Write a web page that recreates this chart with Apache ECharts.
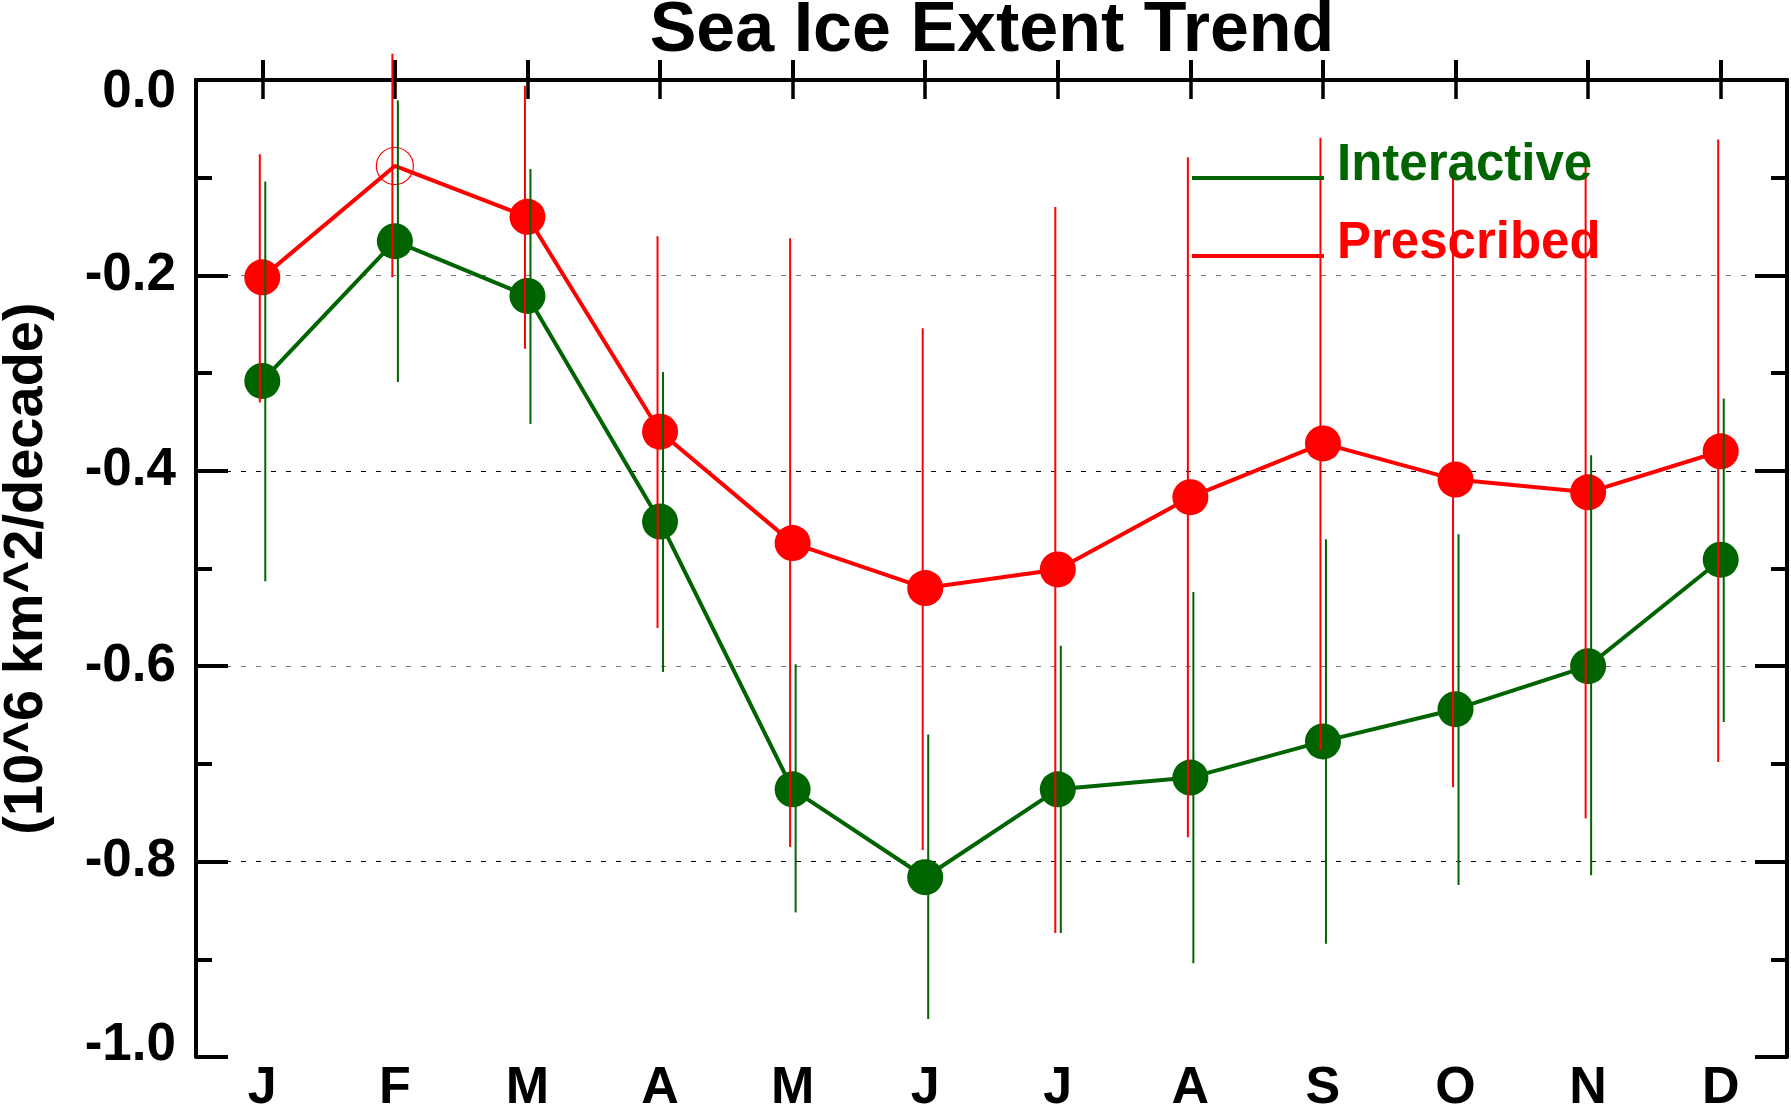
<!DOCTYPE html>
<html>
<head>
<meta charset="utf-8">
<script src="https://cdn.jsdelivr.net/npm/echarts@6/dist/echarts.min.js"></script>
<style>
  html, body { margin: 0; padding: 0; background: #fff; }
  #chart { width: 1791px; height: 1108px; }
</style>
</head>
<body>
<div id="chart"></div>
<script>
// month tick labels
const months = ['J', 'F', 'M', 'A', 'M', 'J', 'J', 'A', 'S', 'O', 'N', 'D']

// Interactive (green)
const interactive = [-0.308, -0.165, -0.221, -0.452, -0.726, -0.816, -0.726, -0.714, -0.677, -0.644, -0.600, -0.491]
const interactiveHi = [-0.104, -0.021, -0.091, -0.299, -0.598, -0.670, -0.579, -0.524, -0.470, -0.465, -0.384, -0.326]
const interactiveLo = [-0.513, -0.309, -0.352, -0.606, -0.852, -0.961, -0.873, -0.904, -0.884, -0.824, -0.814, -0.657]

// Prescribed (red)
const prescribed = [-0.202, -0.088, -0.140, -0.360, -0.474, -0.520, -0.501, -0.427, -0.372, -0.409, -0.422, -0.380]
const prescribedHi = [-0.076, 0.027, -0.006, -0.160, -0.162, -0.254, -0.130, -0.079, -0.059, -0.097, -0.089, -0.061]
const prescribedLo = [-0.330, -0.202, -0.275, -0.561, -0.785, -0.788, -0.873, -0.775, -0.686, -0.724, -0.756, -0.698]

const GREEN = '#006400'
const RED = '#ff0000'
const FONT = 'Liberation Sans, Arial, Helvetica, sans-serif'

const chart = echarts.init(document.getElementById('chart'))

// vertical bar from lo to hi, shifted a few px sideways
const errorBar = (offset, color) => (params, api) => {
  const top = api.coord([api.value(0), api.value(2)])
  const bot = api.coord([api.value(0), api.value(1)])
  return {
    type: 'line',
    shape: { x1: top[0] + offset, y1: top[1], x2: bot[0] + offset, y2: bot[1] },
    style: { stroke: color, lineWidth: 2 }
  }
}

const yCommon = {
  type: 'value',
  min: -1.0,
  max: 0.0,
  interval: 0.2,
  axisLine: { show: true, lineStyle: { color: '#000', width: 4 } },
  axisTick: { show: true, inside: true, length: 32, lineStyle: { color: '#000', width: 4 } },
  minorTick: { show: true, splitNumber: 2, length: 16, lineStyle: { color: '#000', width: 4 } },
  minorSplitLine: { show: false }
}

// legend key: the line sits at the bottom of the icon box so it lines up with the text baseline
const legendIcon = 'path://M0,0 L140,0 L140,0 Z M0,24 L132,24 L132,28 L0,28 Z'
const legendText = { fontFamily: FONT, fontSize: 51, fontWeight: 'bold', lineHeight: 52 }

const option = {
  animation: false,
  backgroundColor: '#fff',
  title: {
    text: 'Sea Ice Extent Trend',
    left: 992,
    top: 4,
    padding: 0,
    textAlign: 'center',
    textStyle: { fontFamily: FONT, fontSize: 70, fontWeight: 'bold', color: '#000', lineHeight: 56 }
  },
  legend: [
    {
      data: [{ name: 'Interactive', textStyle: { color: GREEN } }],
      left: 1192,
      top: 140,
      padding: 0,
      icon: legendIcon,
      itemWidth: 140,
      itemHeight: 28,
      itemGap: 0,
      textStyle: legendText
    },
    {
      data: [{ name: 'Prescribed', textStyle: { color: RED } }],
      left: 1192,
      top: 218,
      padding: 0,
      icon: legendIcon,
      itemWidth: 140,
      itemHeight: 28,
      itemGap: 0,
      textStyle: legendText
    }
  ],
  grid: { left: 196, right: 4, top: 80, bottom: 51, outerBoundsMode: 'none', containLabel: false },
  xAxis: [
    {
      type: 'category',
      data: months,
      boundaryGap: true,
      position: 'bottom',
      axisLine: { show: true, lineStyle: { color: '#000', width: 4 } },
      axisTick: { show: true, inside: true, alignWithLabel: true, length: 20, lineStyle: { color: '#000', width: 4 } },
      axisLabel: { fontFamily: FONT, fontSize: 52, fontWeight: 'bold', color: '#000', margin: 6, lineHeight: 52 },
      splitLine: { show: false }
    },
    {
      type: 'category',
      data: months,
      boundaryGap: true,
      position: 'top',
      axisLine: { show: true, lineStyle: { color: '#000', width: 4 } },
      axisTick: { show: true, inside: true, alignWithLabel: true, length: 19, lineStyle: { color: '#000', width: 3.5 } },
      axisLabel: { show: false },
      splitLine: { show: false }
    }
  ],
  yAxis: [
    {
      ...yCommon,
      position: 'left',
      name: '(10^6 km^2/decade)',
      nameLocation: 'middle',
      nameGap: 141,
      nameTextStyle: { fontFamily: FONT, fontSize: 56, fontWeight: 'bold', color: '#000' },
      axisLabel: {
        fontFamily: FONT, fontSize: 53, fontWeight: 'bold', color: '#000', margin: 20, lineHeight: 24,
        formatter: (v) => v.toFixed(1),
        verticalAlignMinLabel: 'bottom',
        verticalAlignMaxLabel: 'top'
      },
      splitLine: {
        show: true,
        showMinLine: false,
        showMaxLine: false,
        lineStyle: { color: ['#000', '#777'], width: 1, type: [5, 10] }
      }
    },
    {
      ...yCommon,
      position: 'right',
      axisLabel: { show: false },
      splitLine: { show: false }
    }
  ],
  series: [
    {
      name: 'Interactive',
      type: 'line',
      data: interactive,
      symbol: 'circle',
      symbolSize: 36,
      itemStyle: { color: GREEN },
      lineStyle: { color: GREEN, width: 4 },
      z: 2
    },
    {
      name: 'Prescribed',
      type: 'line',
      // February is drawn as an open circle
      data: prescribed.map((v, i) => i === 1
        ? { value: v, symbolSize: 37, itemStyle: { color: 'rgba(0,0,0,0)', borderColor: RED, borderWidth: 1.2 } }
        : v),
      symbol: 'circle',
      symbolSize: 36,
      itemStyle: { color: RED },
      lineStyle: { color: RED, width: 4 },
      z: 2
    },
    {
      name: 'Interactive range',
      type: 'custom',
      clip: false,
      renderItem: errorBar(3, GREEN),
      encode: { x: 0, y: [1, 2] },
      data: months.map((m, i) => [i, interactiveLo[i], interactiveHi[i]]),
      z: 3
    },
    {
      name: 'Prescribed range',
      type: 'custom',
      clip: false,
      renderItem: errorBar(-2.5, RED),
      encode: { x: 0, y: [1, 2] },
      data: months.map((m, i) => [i, prescribedLo[i], prescribedHi[i]]),
      z: 3
    }
  ]
}

chart.setOption(option)
</script>
</body>
</html>
